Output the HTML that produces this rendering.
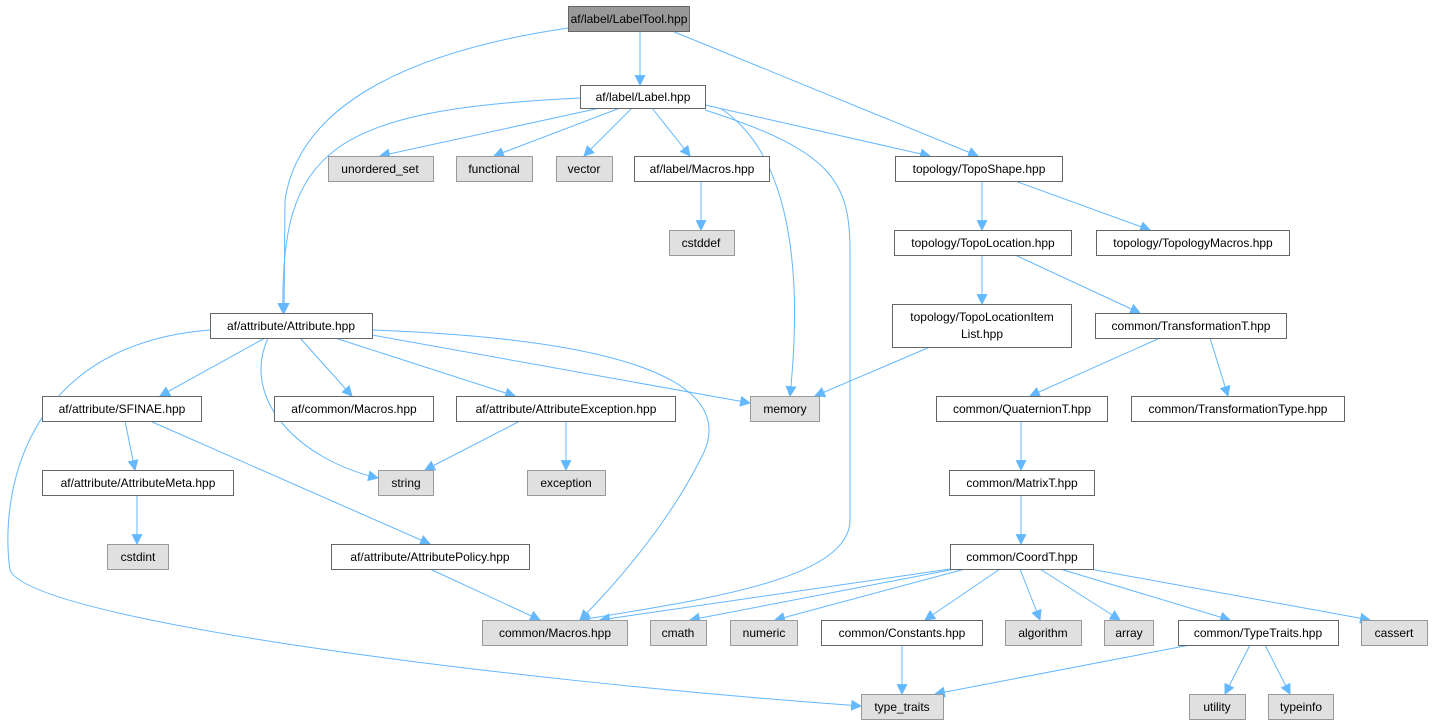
<!DOCTYPE html>
<html><head><meta charset="utf-8"><style>
body{margin:0;background:#fff;width:1433px;height:725px;overflow:hidden}
svg{display:block}
text{font-family:"Liberation Sans",Arial,sans-serif;font-size:12px;fill:#000}
</style></head><body>
<svg width="1433" height="725" viewBox="0 0 1433 725">
<defs><marker id="a" viewBox="0 0 10 10" refX="9" refY="5" markerWidth="11" markerHeight="11" markerUnits="userSpaceOnUse" orient="auto"><path d="M0,0 L10,5 L0,10 z" fill="#63b8ff"/></marker></defs>
<g fill="none" stroke="#63b8ff" stroke-width="1" marker-end="url(#a)">
<path d="M640,31 L640,85"/>
<path d="M568,28 C420,50 300,100 285,200 L284,313"/>
<path d="M672,31 L978,156"/>
<path d="M600,108 L380,156"/>
<path d="M620,108 L494,156"/>
<path d="M632,108 L584,156"/>
<path d="M652,108 L690,156"/>
<path d="M705,105 L930,156"/>
<path d="M720,108 C800,160 800,300 790,396"/>
<path d="M705,110 C830,150 850,180 850,250 L850,520 C850,580 700,600 580,620"/>
<path d="M580,98 C330,110 280,150 283,313"/>
<path d="M701,181 L701,230"/>
<path d="M982,181 L982,230"/>
<path d="M1015,181 L1150,230"/>
<path d="M982,255 L982,304"/>
<path d="M1015,255 L1140,313"/>
<path d="M930,347 L815,396"/>
<path d="M1160,338 L1030,396"/>
<path d="M1210,338 L1228,396"/>
<path d="M1021,421 L1021,470"/>
<path d="M1021,495 L1021,544"/>
<path d="M950,569 L600,620"/>
<path d="M955,569 L690,620"/>
<path d="M965,569 L775,620"/>
<path d="M1000,569 L925,620"/>
<path d="M1020,569 L1040,620"/>
<path d="M1040,569 L1120,620"/>
<path d="M1060,569 L1230,620"/>
<path d="M1090,569 L1370,620"/>
<path d="M902,645 L902,694"/>
<path d="M1190,645 L935,694"/>
<path d="M1250,645 L1225,694"/>
<path d="M1265,645 L1290,694"/>
<path d="M265,338 L160,396"/>
<path d="M300,338 L352,396"/>
<path d="M335,338 L515,396"/>
<path d="M372,335 L750,403"/>
<path d="M268,338 C240,400 300,460 378,478"/>
<path d="M372,330 C650,340 740,390 700,460 C670,520 620,580 580,620"/>
<path d="M210,330 C20,345 0,500 10,570 C30,620 500,680 861,706"/>
<path d="M125,421 L135,470"/>
<path d="M150,421 L430,544"/>
<path d="M137,495 L137,544"/>
<path d="M520,421 L425,470"/>
<path d="M566,421 L566,470"/>
<path d="M430,569 L540,620"/>
</g>
<g stroke-width="1">
<rect x="568.5" y="6.5" width="121" height="25" fill="#999" stroke="#666"/><text x="629" y="23" text-anchor="middle">af/label/LabelTool.hpp</text>
<g fill="#fff" stroke="#666">
<rect x="580.5" y="85.5" width="125" height="23"/>
<rect x="634.5" y="156.5" width="135" height="25"/>
<rect x="895.5" y="156.5" width="167" height="25"/>
<rect x="894.5" y="230.5" width="177" height="25"/>
<rect x="1096.5" y="230.5" width="193" height="25"/>
<rect x="892.5" y="304.5" width="179" height="43"/>
<rect x="210.5" y="313.5" width="162" height="25"/>
<rect x="1095.5" y="313.5" width="191" height="25"/>
<rect x="42.5" y="396.5" width="159" height="25"/>
<rect x="274.5" y="396.5" width="159" height="25"/>
<rect x="456.5" y="396.5" width="219" height="25"/>
<rect x="936.5" y="396.5" width="171" height="25"/>
<rect x="1131.5" y="396.5" width="213" height="25"/>
<rect x="42.5" y="470.5" width="191" height="25"/>
<rect x="949.5" y="470.5" width="145" height="25"/>
<rect x="331.5" y="544.5" width="198" height="25"/>
<rect x="950.5" y="544.5" width="143" height="25"/>
<rect x="821.5" y="620.5" width="161" height="25"/>
<rect x="1178.5" y="620.5" width="160" height="25"/>
</g>
<g fill="#e0e0e0" stroke="#999">
<rect x="328.5" y="156.5" width="105" height="25"/>
<rect x="456.5" y="156.5" width="76" height="25"/>
<rect x="556.5" y="156.5" width="56" height="25"/>
<rect x="669.5" y="230.5" width="65" height="25"/>
<rect x="750.5" y="396.5" width="69" height="25"/>
<rect x="378.5" y="470.5" width="55" height="25"/>
<rect x="527.5" y="470.5" width="78" height="25"/>
<rect x="107.5" y="544.5" width="61" height="25"/>
<rect x="482.5" y="620.5" width="145" height="25"/>
<rect x="650.5" y="620.5" width="56" height="25"/>
<rect x="730.5" y="620.5" width="67" height="25"/>
<rect x="1005.5" y="620.5" width="76" height="25"/>
<rect x="1104.5" y="620.5" width="49" height="25"/>
<rect x="1361.5" y="620.5" width="66" height="25"/>
<rect x="861.5" y="694.5" width="82" height="25"/>
<rect x="1189.5" y="694.5" width="56" height="25"/>
<rect x="1268.5" y="694.5" width="65" height="25"/>
</g>
</g>
<g text-anchor="middle">
<text x="643" y="101">af/label/Label.hpp</text>
<text x="380" y="173">unordered_set</text>
<text x="494" y="173">functional</text>
<text x="584" y="173">vector</text>
<text x="702" y="173">af/label/Macros.hpp</text>
<text x="979" y="173">topology/TopoShape.hpp</text>
<text x="701" y="247">cstddef</text>
<text x="983" y="247">topology/TopoLocation.hpp</text>
<text x="1193" y="247">topology/TopologyMacros.hpp</text>
<text x="982" y="321">topology/TopoLocationItem</text>
<text x="982" y="338">List.hpp</text>
<text x="291" y="330">af/attribute/Attribute.hpp</text>
<text x="1191" y="330">common/TransformationT.hpp</text>
<text x="122" y="413">af/attribute/SFINAE.hpp</text>
<text x="354" y="413">af/common/Macros.hpp</text>
<text x="566" y="413">af/attribute/AttributeException.hpp</text>
<text x="785" y="413">memory</text>
<text x="1022" y="413">common/QuaternionT.hpp</text>
<text x="1238" y="413">common/TransformationType.hpp</text>
<text x="138" y="487">af/attribute/AttributeMeta.hpp</text>
<text x="406" y="487">string</text>
<text x="566" y="487">exception</text>
<text x="1022" y="487">common/MatrixT.hpp</text>
<text x="138" y="561">cstdint</text>
<text x="430" y="561">af/attribute/AttributePolicy.hpp</text>
<text x="1022" y="561">common/CoordT.hpp</text>
<text x="555" y="637">common/Macros.hpp</text>
<text x="678" y="637">cmath</text>
<text x="764" y="637">numeric</text>
<text x="902" y="637">common/Constants.hpp</text>
<text x="1043" y="637">algorithm</text>
<text x="1129" y="637">array</text>
<text x="1258" y="637">common/TypeTraits.hpp</text>
<text x="1394" y="637">cassert</text>
<text x="902" y="711">type_traits</text>
<text x="1217" y="711">utility</text>
<text x="1301" y="711">typeinfo</text>
</g>
</svg>
</body></html>
